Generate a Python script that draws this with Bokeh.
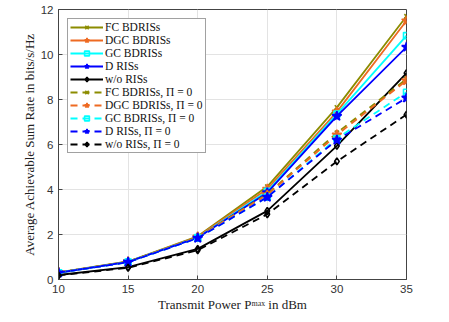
from bokeh.plotting import figure
from bokeh.models import Legend, LegendItem, FixedTicker, Range1d
from bokeh.embed import file_html
from bokeh.resources import INLINE

x_power = [10, 15, 20, 25, 30, 35]
fc = [0.32, 0.80, 1.92, 4.13, 7.65, 11.70]
dgc = [0.31, 0.79, 1.90, 4.02, 7.45, 11.50]
gc = [0.30, 0.78, 1.87, 3.92, 7.35, 10.84]
d_ris = [0.30, 0.78, 1.86, 3.86, 7.26, 10.33]
wo = [0.20, 0.55, 1.36, 3.05, 5.94, 9.17]
fc0 = [0.31, 0.79, 1.88, 3.80, 6.52, 8.91]
dgc0 = [0.31, 0.78, 1.87, 3.76, 6.43, 8.84]
gc0 = [0.30, 0.77, 1.84, 3.66, 6.27, 8.32]
d0 = [0.30, 0.77, 1.84, 3.66, 6.20, 8.07]
wo0 = [0.18, 0.52, 1.30, 2.90, 5.25, 7.33]

names = ["FC BDRISs", "DGC BDRISs", "GC BDRISs", "D RISs", "w/o RISs",
         "FC BDRISs, \u03a0 = 0", "DGC BDRISs, \u03a0 = 0", "GC BDRISs, \u03a0 = 0",
         "D RISs, \u03a0 = 0", "w/o RISs, \u03a0 = 0"]
series = [fc, dgc, gc, d_ris, wo, fc0, dgc0, gc0, d0, wo0]
colors = ["#8c8c00", "#ee6a22", "#00ffff", "#0000ff", "#000000"] * 2
markers = ["x", "star", "square", "star", "diamond"] * 2
fills = [None, "#ee6a22", None, "#0000ff", None] * 2
sizes = [6, 10, 6, 10, 7] * 2
dashes = ["solid"] * 5 + ["7 5"] * 5

p = figure(width=441, height=314, output_backend="svg", toolbar_location=None,
           x_range=Range1d(10, 35), y_range=Range1d(0, 12),
           min_border_left=58, min_border_right=35, min_border_top=9, min_border_bottom=29)

p.xaxis.ticker = FixedTicker(ticks=[10, 15, 20, 25, 30, 35])
p.yaxis.ticker = FixedTicker(ticks=[0, 2, 4, 6, 8, 10, 12])
p.xaxis.axis_label = "Transmit Power P\u1d50\u1d43\u02e3 in dBm"
p.yaxis.axis_label = "Average Achievable Sum Rate in bits/s/Hz"
for ax in [p.xaxis[0], p.yaxis[0]]:
    ax.axis_label_text_font = "Liberation Serif"
    ax.axis_label_text_font_style = "normal"
    ax.axis_label_text_font_size = "13px"
    ax.axis_label_text_color = "#222222"
    ax.major_label_text_font = "Liberation Sans"
    ax.major_label_text_font_size = "11.5px"
    ax.major_label_text_color = "#333333"
    ax.axis_line_color = "#444444"
    ax.major_tick_line_color = "#444444"
    ax.major_tick_in = 4
    ax.major_tick_out = 0
    ax.minor_tick_line_color = None
    ax.axis_label_standoff = 1
    ax.major_label_standoff = 5

p.xgrid.grid_line_color = "#e3e3e3"
p.ygrid.grid_line_color = "#e3e3e3"
p.outline_line_color = "#444444"
p.background_fill_color = "white"
p.border_fill_color = "white"

items = []
for name, ys, c, m, f, s, dsh in zip(names, series, colors, markers, fills, sizes, dashes):
    ln = p.line(x_power, ys, line_color=c, line_width=1.8, line_dash=dsh)
    sc = p.scatter(x_power, ys, marker=m, size=s, line_color=c, fill_color=f, line_width=1.6)
    items.append(LegendItem(label=name, renderers=[ln, sc]))

legend = Legend(items=items, location="top_left", label_text_font="Liberation Serif",
                label_text_font_size="11.5px", label_text_color="#111111",
                glyph_width=33, glyph_height=12, label_height=12, spacing=1,
                padding=2, margin=9, border_line_color="#444444",
                label_standoff=2, background_fill_alpha=1.0)
p.add_layout(legend)

open("out.html", "w").write(file_html(p, INLINE))
